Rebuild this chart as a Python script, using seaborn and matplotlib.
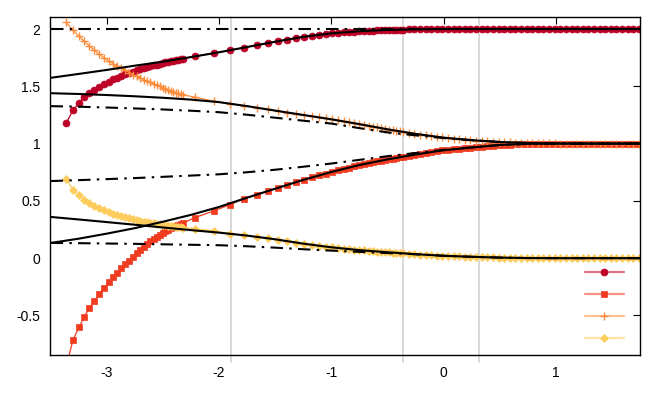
import matplotlib
matplotlib.use('Agg')
import matplotlib.pyplot as plt
import seaborn as sns
from matplotlib.lines import Line2D
from matplotlib.ticker import FuncFormatter

# --- data ---
# shared x grid of the four marker series
x_pts = [
    -3.362, -3.300, -3.247, -3.200, -3.155, -3.110, -3.066, -3.024,
    -2.982, -2.944, -2.906, -2.870, -2.834, -2.799, -2.765, -2.732,
    -2.700, -2.669, -2.639, -2.610, -2.582, -2.555, -2.529, -2.503,
    -2.478, -2.454, -2.431, -2.408, -2.386, -2.364, -2.342, -2.318,
    -2.214, -2.042, -1.905, -1.775, -1.665, -1.566, -1.470, -1.390,
    -1.310, -1.240, -1.170, -1.110, -1.050, -0.995, -0.940, -0.890,
    -0.840, -0.795, -0.750, -0.708, -0.667, -0.627, -0.590, -0.553,
    -0.518, -0.484, -0.451, -0.419, -0.388, -0.358,
    -0.31, -0.26, -0.21, -0.16, -0.11, -0.06, -0.01, 0.04,
    0.09, 0.14, 0.19, 0.24, 0.29, 0.34, 0.39, 0.44,
    0.49, 0.54, 0.59, 0.64, 0.69, 0.74, 0.79, 0.84,
    0.89, 0.94, 0.99, 1.04, 1.09, 1.14, 1.19, 1.24,
    1.29, 1.34, 1.39, 1.44, 1.49, 1.54, 1.59, 1.64,
    1.69, 1.74,
]

circ_y = [
    1.179, 1.289, 1.356, 1.411, 1.443, 1.469, 1.498, 1.516,
    1.540, 1.560, 1.576, 1.591, 1.604, 1.616, 1.628, 1.639,
    1.649, 1.658, 1.666, 1.674, 1.682, 1.689, 1.696, 1.703,
    1.709, 1.715, 1.720, 1.725, 1.730, 1.734, 1.738, 1.742,
    1.761, 1.790, 1.814, 1.838, 1.859, 1.877, 1.894, 1.908,
    1.922, 1.933, 1.942, 1.949, 1.956, 1.962, 1.967, 1.971,
    1.974, 1.978, 1.981, 1.983, 1.985, 1.987, 1.988, 1.990,
    1.991, 1.992, 1.993, 1.994, 1.995, 1.995,
    1.996, 1.997, 1.998, 1.998, 1.999, 1.999, 2.0, 2.0,
    2.0, 2.0, 2.0, 2.0, 2.0, 2.0, 2.0, 2.0,
    2.0, 2.0, 2.0, 2.0, 2.0, 2.0, 2.0, 2.0,
    2.0, 2.0, 2.0, 2.0, 2.0, 2.0, 2.0, 2.0,
    2.0, 2.0, 2.0, 2.0, 2.0, 2.0, 2.0, 2.0,
    2.0, 2.0,
]

square_y = [
    -0.950, -0.714, -0.604, -0.511, -0.438, -0.372, -0.314, -0.258,
    -0.212, -0.168, -0.128, -0.090, -0.055, -0.022, 0.012, 0.044,
    0.073, 0.100, 0.125, 0.148, 0.169, 0.188, 0.206, 0.222,
    0.237, 0.250, 0.262, 0.273, 0.283, 0.292, 0.300, 0.308,
    0.354, 0.414, 0.466, 0.520, 0.555, 0.585, 0.615, 0.640,
    0.665, 0.686, 0.705, 0.722, 0.738, 0.753, 0.767, 0.779,
    0.791, 0.802, 0.813, 0.821, 0.829, 0.837, 0.844, 0.851,
    0.858, 0.864, 0.869, 0.875, 0.880, 0.885,
    0.894, 0.903, 0.911, 0.919, 0.927, 0.934, 0.941, 0.946,
    0.951, 0.956, 0.961, 0.965, 0.970, 0.974, 0.978, 0.983,
    0.987, 0.990, 0.992, 0.994, 0.996, 0.998, 0.999, 0.999,
    1.0, 1.0, 1.0, 1.0, 1.0, 1.0, 1.0, 1.0,
    1.0, 1.0, 1.0, 1.0, 1.0, 1.0, 1.0, 1.0,
    1.0, 1.0,
]

plus_y = [
    2.058, 1.990, 1.937, 1.892, 1.852, 1.815, 1.779, 1.750,
    1.722, 1.698, 1.678, 1.659, 1.640, 1.620, 1.601, 1.586,
    1.572, 1.558, 1.546, 1.534, 1.522, 1.510, 1.499, 1.488,
    1.477, 1.467, 1.459, 1.451, 1.444, 1.438, 1.432, 1.426,
    1.405, 1.370, 1.347, 1.331, 1.314, 1.298, 1.283, 1.271,
    1.259, 1.248, 1.238, 1.229, 1.220, 1.211, 1.202, 1.194,
    1.185, 1.178, 1.170, 1.162, 1.155, 1.148, 1.141, 1.135,
    1.128, 1.122, 1.117, 1.112, 1.107, 1.102,
    1.095, 1.087, 1.079, 1.072, 1.066, 1.060, 1.054, 1.049,
    1.044, 1.039, 1.035, 1.031, 1.027, 1.024, 1.020, 1.017,
    1.014, 1.012, 1.010, 1.008, 1.006, 1.005, 1.004, 1.003,
    1.002, 1.001, 1.001, 1.0, 1.0, 1.0, 1.0, 1.0,
    1.0, 1.0, 1.0, 1.0, 1.0, 1.0, 1.0, 1.0,
    1.0, 1.0,
]

diamond_y = [
    0.688, 0.598, 0.549, 0.508, 0.480, 0.456, 0.435, 0.418,
    0.403, 0.389, 0.376, 0.366, 0.356, 0.347, 0.338, 0.331,
    0.324, 0.318, 0.312, 0.307, 0.303, 0.299, 0.295, 0.291,
    0.287, 0.283, 0.280, 0.277, 0.274, 0.271, 0.269, 0.267,
    0.258, 0.238, 0.214, 0.200, 0.186, 0.174, 0.160, 0.148,
    0.136, 0.126, 0.117, 0.109, 0.101, 0.094, 0.089, 0.084,
    0.079, 0.074, 0.070, 0.067, 0.064, 0.061, 0.058, 0.056,
    0.053, 0.051, 0.048, 0.046, 0.044, 0.042,
    0.039, 0.035, 0.032, 0.029, 0.026, 0.023, 0.021, 0.019,
    0.017, 0.015, 0.014, 0.012, 0.011, 0.009, 0.008, 0.007,
    0.005, 0.004, 0.003, 0.002, 0.002, 0.001, 0.001, 0.0,
    0.0, 0.0, 0.0, 0.0, 0.0, 0.0, 0.0, 0.0,
    0.0, 0.0, 0.0, 0.0, 0.0, 0.0, 0.0, 0.0,
    0.0, 0.0,
]

# black reference curves
bx = [-3.5, -3.25, -3.0, -2.75, -2.5, -2.25, -2.0, -1.75, -1.5, -1.25, -1.0,
      -0.75, -0.5, -0.25, 0.0, 0.25, 0.5, 0.75, 1.0, 1.25, 1.5, 1.75]
solid_a = [1.574, 1.608, 1.643, 1.680, 1.715, 1.755, 1.797, 1.843, 1.889, 1.932, 1.962,
           1.981, 1.992, 1.997, 2.0, 2.0, 2.0, 2.0, 2.0, 2.0, 2.0, 2.0]
solid_b = [1.440, 1.433, 1.424, 1.413, 1.400, 1.384, 1.362, 1.327, 1.288, 1.250, 1.212,
           1.170, 1.125, 1.085, 1.052, 1.030, 1.014, 1.005, 1.001, 1.0, 1.0, 1.0]
solid_c = [0.133, 0.170, 0.214, 0.262, 0.318, 0.378, 0.447, 0.528, 0.606, 0.683, 0.752,
           0.813, 0.862, 0.905, 0.942, 0.966, 0.988, 0.998, 1.0, 1.0, 1.0, 1.0]
solid_d = [0.360, 0.338, 0.315, 0.292, 0.268, 0.245, 0.223, 0.197, 0.165, 0.127, 0.095,
           0.070, 0.052, 0.035, 0.021, 0.012, 0.005, 0.001, 0.0, 0.0, 0.0, 0.0]
dash_e = [2.0, 2.0, 2.0, 2.0, 2.0, 2.0, 2.0, 2.0, 2.0, 2.0, 2.0,
          2.0, 2.0, 2.0, 2.0, 2.0, 2.0, 2.0, 2.0, 2.0, 2.0, 2.0]
dash_f = [1.327, 1.322, 1.315, 1.307, 1.298, 1.287, 1.274, 1.252, 1.226, 1.200, 1.175,
          1.135, 1.098, 1.072, 1.048, 1.030, 1.014, 1.005, 1.001, 1.0, 1.0, 1.0]
dash_g = [0.673, 0.681, 0.690, 0.699, 0.710, 0.721, 0.732, 0.750, 0.772, 0.798, 0.826,
          0.858, 0.890, 0.918, 0.945, 0.966, 0.988, 0.998, 1.0, 1.0, 1.0, 1.0]
dash_h = [0.133, 0.131, 0.128, 0.125, 0.121, 0.117, 0.113, 0.104, 0.092, 0.078, 0.066,
          0.055, 0.045, 0.034, 0.021, 0.012, 0.005, 0.001, 0.0, 0.0, 0.0, 0.0]

vline_x = [-1.89, -0.365, 0.315]
x_ticks = [-3, -2, -1, 0, 1]
y_ticks = [-0.5, 0, 0.5, 1, 1.5, 2]

# --- style ---
sns.set_style('white')
plt.rcParams['font.family'] = ['Liberation Sans', 'DejaVu Sans']
plt.rcParams['axes.unicode_minus'] = False

fig = plt.figure(figsize=(6.64, 3.99), dpi=100)
ax = fig.add_axes([0.0753, 0.1103, 0.8886, 0.8471])

# colour, marker, size, edge width
marker_series = [
    (circ_y, '#bd0026', 'o', 5.0, 0.5),
    (square_y, '#f03b20', 's', 4.4, 0.5),
    (plus_y, '#fd8d3c', '+', 5.5, 1.0),
    (diamond_y, '#fecc5c', 'D', 3.8, 0.5),
]

for ys, col, mk, ms, mew in marker_series:
    sns.lineplot(x=x_pts, y=ys, color=col, marker=mk, markersize=ms,
                 markeredgecolor=col, markeredgewidth=mew, linewidth=0.9,
                 estimator=None, sort=False, legend=False, ax=ax, zorder=2)

for ys in [solid_a, solid_b, solid_c, solid_d]:
    sns.lineplot(x=bx, y=ys, color='black', linewidth=1.5, estimator=None,
                 sort=False, legend=False, ax=ax, zorder=3)
for ys in [dash_e, dash_f, dash_g, dash_h]:
    sns.lineplot(x=bx, y=ys, color='black', linewidth=1.5, linestyle=(0, (6, 3, 1.2, 3)),
                 estimator=None, sort=False, legend=False, ax=ax, zorder=3)

for v in vline_x:
    ax.axvline(v, ymin=-0.02, ymax=1, color='#d6d6d6', lw=1.3, zorder=0.5, clip_on=False)

ax.set_xlim(-3.505, 1.75)
ax.set_ylim(-0.845, 2.105)
ax.set_xticks(x_ticks)
ax.set_yticks(y_ticks)
ax.xaxis.set_major_formatter(FuncFormatter(lambda v, p: '%g' % v))
ax.yaxis.set_major_formatter(FuncFormatter(lambda v, p: '%g' % v))
ax.tick_params(direction='in', length=5, width=0.8, top=True, right=True,
               labelsize=10, colors='black')
ax.tick_params(axis='x', pad=8)
ax.tick_params(axis='y', pad=7)
ax.set_xlabel('')
ax.set_ylabel('')
for s in ax.spines.values():
    s.set_color('black')
    s.set_linewidth(1.0)

# legend without text, bottom right
handles = []
for ys, col, mk, ms, mew in marker_series:
    ln = Line2D([], [], color=col, lw=1.6, alpha=0.55)
    pt = Line2D([], [], color=col, marker=mk, ls='none', markersize=ms,
                markeredgecolor=col, markeredgewidth=mew)
    handles.append((ln, pt))
ax.legend(handles, ['', '', '', ''], loc='lower right', bbox_to_anchor=(0.99, 0.012),
          frameon=False, handlelength=3.3, handletextpad=0.4, labelspacing=0.85,
          borderpad=0, fontsize=8.5)

fig.savefig('out.png', dpi=100)
print('Saved: out.png')
